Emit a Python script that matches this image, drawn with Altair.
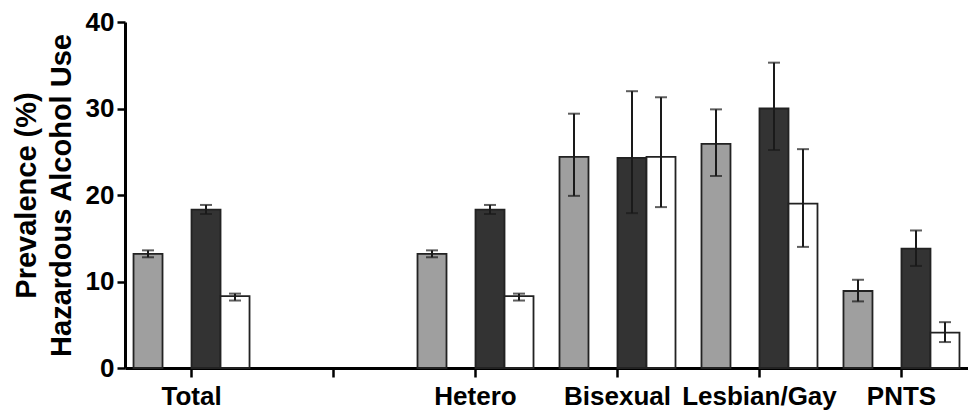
import altair as alt
import pandas as pd

# ---- data ----
x_domain = ["Total", " ", "Hetero", "Bisexual", "Lesbian/Gay", "PNTS"]
groups = ["Total", "Hetero", "Bisexual", "Lesbian/Gay", "PNTS"]
series = ["Series 1", "Series 2", "Series 3"]
offset_domain = ["Series 1", "gap", "Series 2", "Series 3"]
series_colors = ["#9f9f9f", "#333333", "#ffffff"]

s1_val = [13.2, 13.2, 24.4, 25.9, 8.9]
s1_lo = [12.8, 12.8, 19.9, 22.2, 7.7]
s1_hi = [13.6, 13.6, 29.4, 29.9, 10.2]

s2_val = [18.3, 18.3, 24.3, 30.0, 13.8]
s2_lo = [17.8, 17.8, 17.9, 25.2, 11.8]
s2_hi = [18.85, 18.85, 32.0, 35.3, 15.9]

s3_val = [8.3, 8.3, 24.4, 19.0, 4.1]
s3_lo = [7.8, 7.8, 18.6, 14.0, 3.0]
s3_hi = [8.6, 8.6, 31.3, 25.3, 5.3]

rows = []
for name, vals, los, his in [
    (series[0], s1_val, s1_lo, s1_hi),
    (series[1], s2_val, s2_lo, s2_hi),
    (series[2], s3_val, s3_lo, s3_hi),
]:
    for g, v, lo, hi in zip(groups, vals, los, his):
        rows.append({"group": g, "series": name, "value": v, "lo": lo, "hi": hi})
df = pd.DataFrame(rows)

FONT = "Liberation Sans"

x_enc = alt.X(
    "group:N",
    scale=alt.Scale(domain=x_domain, paddingInner=0.183, paddingOuter=0.06),
    axis=alt.Axis(
        title=None,
        labelAngle=0,
        labelFontSize=26,
        labelFont=FONT,
        labelFontWeight="bold",
        labelColor="black",
        labelPadding=6,
        tickSize=9,
        tickWidth=2.5,
        tickColor="black",
        domainWidth=3,
        domainColor="black",
        grid=False,
    ),
)
xo_enc = alt.XOffset(
    "series:N",
    scale=alt.Scale(domain=offset_domain, paddingInner=0, paddingOuter=0),
)
y_scale = alt.Scale(domain=[0, 40], nice=False)

bars = alt.Chart(df).mark_bar(stroke="#222222", strokeWidth=1.8).encode(
    x=x_enc,
    xOffset=xo_enc,
    y=alt.Y(
        "value:Q",
        scale=y_scale,
        axis=alt.Axis(
            title=["Prevalence (%)", "Hazardous Alcohol Use"],
            titleFontSize=29,
            titleFont=FONT,
            titleFontWeight="bold",
            titleColor="black",
            titleLineHeight=35,
            titlePadding=9,
            values=[0, 10, 20, 30, 40],
            labelFontSize=26,
            labelFont=FONT,
            labelFontWeight="bold",
            labelColor="black",
            labelPadding=3,
            tickSize=8,
            tickWidth=2.5,
            tickColor="black",
            domainWidth=3,
            domainColor="black",
            grid=False,
        ),
    ),
    fill=alt.Fill(
        "series:N",
        scale=alt.Scale(domain=series, range=series_colors),
        legend=None,
    ),
)

rules = alt.Chart(df).mark_rule(color="#1a1a1a", strokeWidth=2).encode(
    x=x_enc, xOffset=xo_enc, y=alt.Y("lo:Q", scale=y_scale), y2="hi:Q"
)
cap_lo = alt.Chart(df).mark_tick(color="#1a1a1a", thickness=2, size=12).encode(
    x=x_enc, xOffset=xo_enc, y=alt.Y("lo:Q", scale=y_scale)
)
cap_hi = alt.Chart(df).mark_tick(color="#1a1a1a", thickness=2, size=12).encode(
    x=x_enc, xOffset=xo_enc, y=alt.Y("hi:Q", scale=y_scale)
)

chart = (
    alt.layer(bars, rules, cap_lo, cap_hi)
    .properties(
        width=843,
        height=346,
        background="white",
        autosize=alt.AutoSizeParams(type="none"),
        padding={"left": 117, "top": 14, "right": 0, "bottom": 45},
    )
    .configure_view(strokeWidth=0)
    .configure_axis(grid=False)
)

chart.save("out.html", embed_options={"renderer": "svg", "actions": False})
